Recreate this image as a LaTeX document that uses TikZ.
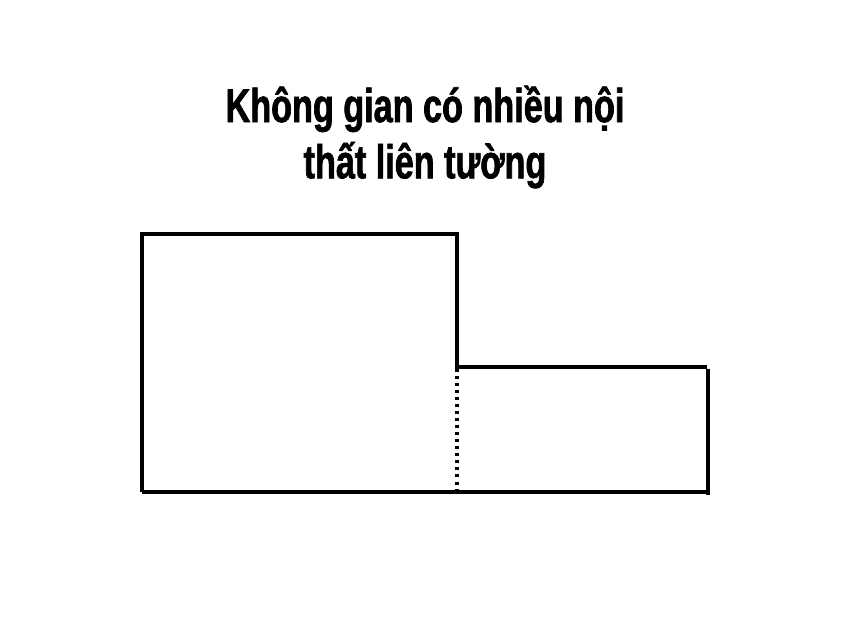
\documentclass[tikz,border=0pt]{standalone}
\usepackage{fontspec}
\setmainfont{Liberation Sans}
\newfontfamily\titlefont[FakeStretch=0.72,FakeBold=1.4]{Liberation Sans Bold}
\usepackage{tikz}

\tikzset{wall/.style={line width=1pt},
  opening/.style={line width=1pt,dash pattern=on 0.85pt off 1.15pt}}

\begin{document}
\begin{tikzpicture}[x=0.01cm,y=-0.01cm]

\useasboundingbox[fill=white] (0,0) rectangle (850,640);

\node[align=center,font=\titlefont\fontsize{13.5pt}{16pt}\selectfont] (title) at (425,137)
{Không gian có nhiều nội\\thất liên tường};

\draw[wall] (142,492) -- (142,234) -- (457,234) -- (457,367) -- (707,367);

\draw[wall] (708,369) -- (708,495);

\draw[wall] (142,492) -- (708,492);

\draw[opening] (457,369) -- (457,492);

\end{tikzpicture}
\end{document}
